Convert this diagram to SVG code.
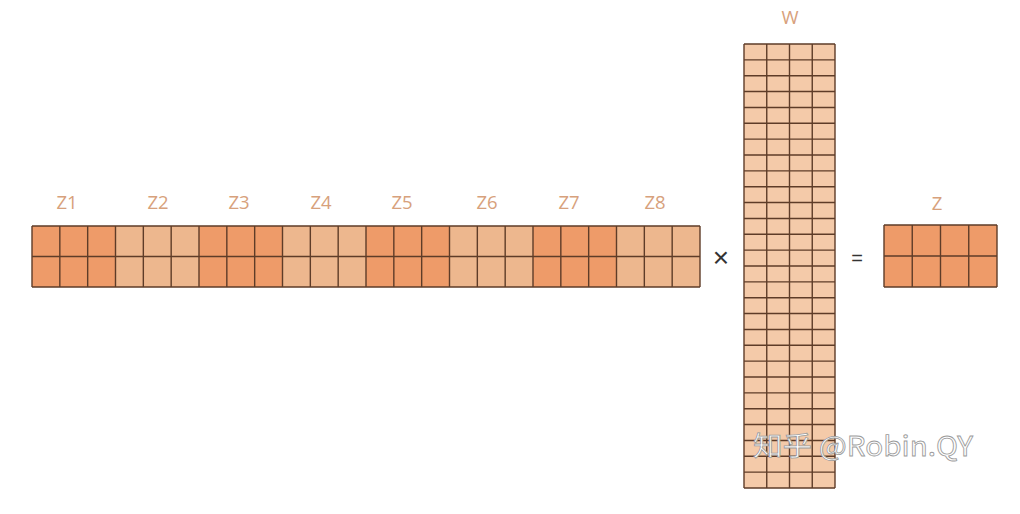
<svg xmlns="http://www.w3.org/2000/svg" width="1020" height="514" viewBox="0 0 1020 514">
<style>
.dk{fill:#EE9B69}
.lt{fill:#EDB78E}
.wf{fill:#F4CAA9}
.grid{fill:none;stroke:#5E3C28;stroke-width:1.4}
.lbl{font-family:"Open Sans","Liberation Sans",sans-serif;font-size:18.5px;fill:#D7A17C;text-anchor:middle}
.op{font-family:"Liberation Sans",sans-serif;fill:#333;text-anchor:middle}
.wm{font-family:"Noto Sans CJK SC","Liberation Sans",sans-serif;font-size:27px;fill:#ffffff;stroke:#9a9a9a;stroke-width:0.8}
</style>
<rect width="1020" height="514" fill="#ffffff"/>
<g id="row-matrix">
<rect class="dk" x="32" y="226" width="83.5" height="61"/>
<rect class="lt" x="115.5" y="226" width="83.5" height="61"/>
<rect class="dk" x="199" y="226" width="83.5" height="61"/>
<rect class="lt" x="282.5" y="226" width="83.5" height="61"/>
<rect class="dk" x="366" y="226" width="83.5" height="61"/>
<rect class="lt" x="449.5" y="226" width="83.5" height="61"/>
<rect class="dk" x="533" y="226" width="83.5" height="61"/>
<rect class="lt" x="616.5" y="226" width="83.5" height="61"/>
<path class="grid" d="M32 226H700M32 256.5H700M32 287H700M32 226V287M59.83 226V287M87.67 226V287M115.5 226V287M143.33 226V287M171.17 226V287M199 226V287M226.83 226V287M254.67 226V287M282.5 226V287M310.33 226V287M338.17 226V287M366 226V287M393.83 226V287M421.67 226V287M449.5 226V287M477.33 226V287M505.17 226V287M533 226V287M560.83 226V287M588.67 226V287M616.5 226V287M644.33 226V287M672.17 226V287M700 226V287"/>
<text class="lbl" x="67" y="209">Z1</text>
<text class="lbl" x="158" y="209">Z2</text>
<text class="lbl" x="239" y="209">Z3</text>
<text class="lbl" x="321" y="209">Z4</text>
<text class="lbl" x="402" y="209">Z5</text>
<text class="lbl" x="487" y="209">Z6</text>
<text class="lbl" x="569" y="209">Z7</text>
<text class="lbl" x="655" y="209">Z8</text>
</g>
<g id="times"><text class="op" x="721" y="267" font-size="28">×</text></g>
<g id="W-matrix">
<rect class="wf" x="744" y="44" width="91" height="444"/>
<path class="grid" d="M744 44V488M766.75 44V488M789.5 44V488M812.25 44V488M835 44V488M744 44H835M744 59.86H835M744 75.71H835M744 91.57H835M744 107.43H835M744 123.29H835M744 139.14H835M744 155H835M744 170.86H835M744 186.71H835M744 202.57H835M744 218.43H835M744 234.29H835M744 250.14H835M744 266H835M744 281.86H835M744 297.71H835M744 313.57H835M744 329.43H835M744 345.29H835M744 361.14H835M744 377H835M744 392.86H835M744 408.71H835M744 424.57H835M744 440.43H835M744 456.29H835M744 472.14H835M744 488H835"/>
<text class="lbl" x="790" y="24">W</text>
</g>
<g id="equals"><text class="op" x="857" y="265" font-size="20">=</text></g>
<g id="Z-matrix">
<rect class="dk" x="884" y="225" width="113" height="62"/>
<path class="grid" d="M884 225H997M884 256H997M884 287H997M884 225V287M912.25 225V287M940.5 225V287M968.75 225V287M997 225V287"/>
<text class="lbl" x="937" y="210">Z</text>
</g>
<g id="watermark"><text class="wm" x="753" y="456" textLength="220" lengthAdjust="spacingAndGlyphs">知乎 @Robin.QY</text></g>
</svg>
